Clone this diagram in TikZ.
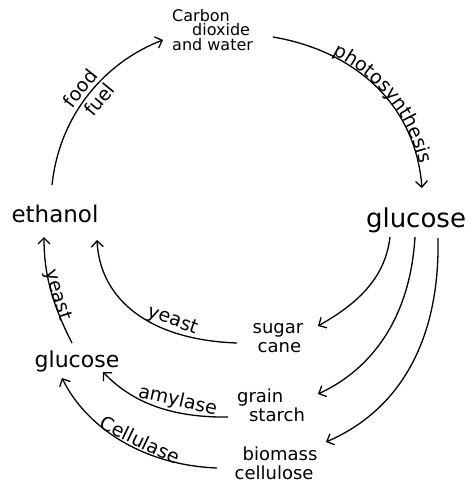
\documentclass[tikz,border=0pt]{standalone}
\usepackage{fontspec}
\setmainfont{DejaVu Sans}
\usetikzlibrary{arrows.meta,calc,decorations.text}
\begin{document}
\begin{tikzpicture}[x=1pt,y=-1pt,
  conn/.style={line width=1.3pt,-{Straight Barb[length=6pt,width=12pt,line width=1.3pt]}},
  term/.style={inner sep=0pt, anchor=base},
  mid/.style={font=\fontsize{18}{19}\selectfont, inner sep=0pt, align=left},
  lab/.style={font=\fontsize{19}{20}\selectfont, inner sep=1.5pt}]
\useasboundingbox (0,0) rectangle (474,488);

% nodes
\node[term, font=\fontsize{23}{24}\selectfont] (eth) at (55,222) {ethanol};
\node[term, font=\fontsize{26}{28}\selectfont] (glr) at (416,227) {glucose};
\node[term, font=\fontsize{22}{24}\selectfont] (gll) at (77,367) {glucose};
\node[anchor=north west, inner sep=0pt, align=left, font=\fontsize{16}{14.5}\selectfont] (co2) at (172,9) {Carbon\\\hspace*{20pt}dioxide\\and water};
\node[mid] (sc) at (278,338) {sugar\\\hspace*{5pt}cane};
\node[mid] (gs) at (271,405) {grain\\\hspace*{12pt}starch};
\node[mid] (bc) at (276,463) {\hspace*{8pt}biomass\\cellulose};

% outer cycle
\draw[conn] ($(eth.base)+(-3,-37)$) .. controls (60,110) and (110,60) .. ($(co2.north west)+(-9,31)$)
  node[pos=.48,sloped,above=1pt,lab] {food}
  node[pos=.5,sloped,below=2pt,lab] {fuel};
\draw[conn] ($(co2.north west)+(101,28)$) .. controls (350,50) and (415,100) .. ($(glr.base)+(6,-39)$);
\path[decorate, decoration={text along path, text={|\fontsize{19}{20}\selectfont|photosynthesis}, text align={left indent=62pt}, raise=1pt}]
  ($(co2.north west)+(101,28)$) .. controls (350,50) and (415,100) .. ($(glr.base)+(6,-39)$);

% glucose to sources
\draw[conn] ($(glr.base)+(-26,10)$) .. controls (385,280) and (355,305) .. ($(sc.center)+(40,-12)$);
\draw[conn] ($(glr.base)+(-1,10)$) .. controls (410,320) and (370,370) .. ($(gs.center)+(47,-11)$);
\draw[conn] ($(glr.base)+(22,11)$) .. controls (440,340) and (400,410) .. ($(bc.center)+(50,-21)$);

% sources back
\draw[conn] ($(sc.center)+(-41,5)$) .. controls (150,340) and (100,300) .. ($(eth.base)+(42,18)$)
  node[pos=.3,sloped,above,lab] {yeast};
\draw[conn] ($(gs.center)+(-43,12)$) .. controls (160,418) and (125,395) .. ($(gll.base)+(26,5)$)
  node[pos=.3,sloped,above,lab] {amylase};
\draw[conn] ($(bc.center)+(-59,5)$) .. controls (140,465) and (85,425) .. ($(gll.base)+(-15,11)$)
  node[pos=.4,sloped,above,lab] {Cellulase};
\draw[conn] ($(gll.base)+(-5,-24)$) .. controls (50,300) and (44,270) .. ($(eth.base)+(-11,15)$)
  node[pos=.4,sloped,anchor=base,lab] {yeast};
\end{tikzpicture}
\end{document}
